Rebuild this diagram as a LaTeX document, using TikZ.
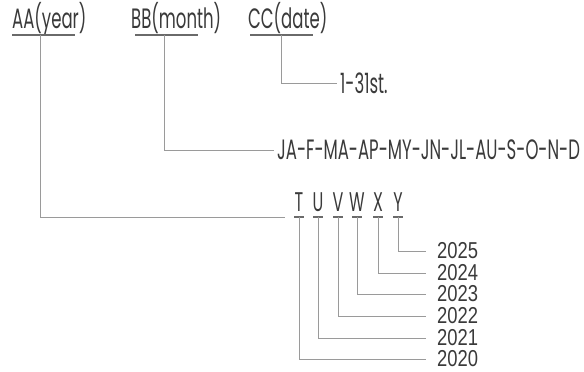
\documentclass[tikz,border=0pt]{standalone}
\usepackage{fontspec}
\setmainfont{Poppins}[FakeStretch=0.59]
\newfontfamily\yearfont{Liberation Sans}[FakeStretch=0.8]
\usetikzlibrary{positioning,calc}
\definecolor{CodeText}{HTML}{3A3A3A}
\definecolor{CodeLine}{HTML}{9A9A9A}
\definecolor{CodeRule}{HTML}{6A6A6A}
\tikzset{
  codehead/.style={anchor=base west,inner sep=0pt,text=CodeText,
    font=\fontsize{28}{28}\selectfont},
  codeval/.style={anchor=west,inner sep=0pt,text=CodeText,
    font=\fontsize{28}{28}\selectfont},
  codeletter/.style={anchor=base,inner sep=0pt,text=CodeText,
    font=\fontsize{27}{27}\selectfont},
  yearval/.style={anchor=west,inner sep=0pt,text=CodeText,
    font=\yearfont\fontsize{23}{23}\selectfont},
  codeline/.style={draw=CodeLine,line width=0.9pt},
  coderule/.style={draw=CodeRule,line width=1.8pt},
  tickrule/.style={draw=CodeRule,line width=1.4pt},
}

\begin{document}
\begin{tikzpicture}[x=1pt,y=-1pt]
  \useasboundingbox (0,0) rectangle (584,372);

  \node[codehead] (aa) at (12,28) {AA(year)};
  \node[codehead] (bb) at (131,28) {BB(month)};
  \node[codehead] (cc) at (248,28) {CC(date)};
  \draw[coderule] ($(aa.base west)+(0,7)$) -- ++(63,0);
  \draw[coderule] ($(bb.base west)+(4,7)$) -- ++(63,0);
  \draw[coderule] ($(cc.base west)+(2,7)$) -- ++(63,0);

  \node[codeval] (date) at (340,83) {1-31st.};
  \node[codeval] (month) at (277,150) {JA-F-MA-AP-MY-JN-JL-AU-S-O-N-D};

  \draw[codeline,shorten >=3pt] ($(cc.base west)+(33,7)$) |- (date.west);
  \draw[codeline,shorten >=3pt] ($(bb.base west)+(33,7)$) |- (month.west);

  \foreach \letter/\xpos/\yr/\ypos in
    {T/299/2020/359,U/318/2021/338,V/338/2022/316,
     W/357/2023/294,X/378/2024/273,Y/398/2025/251} {
    \node[codeletter] (let\letter) at (\xpos,211) {\letter};
    \node[yearval] (yr\yr) at (437,\ypos) {\yr};
    \draw[tickrule] ($(let\letter.base)+(-5,6)$) -- ++(10,0);
    \draw[codeline,shorten >=11pt] ($(let\letter.base)+(0,6)$) |- (yr\yr.west);
  }

  \draw[codeline,shorten >=9pt] ($(aa.base west)+(28,7)$) |- ($(letT.base)+(-5,6)$);
\end{tikzpicture}
\end{document}
